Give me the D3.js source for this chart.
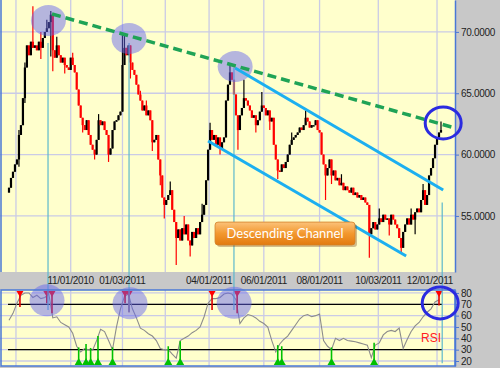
<!DOCTYPE html>
<html lang="en">
<head>
<meta charset="UTF-8">
<title>Descending Channel</title>
<script src="https://d3js.org/d3.v7.min.js"></script>
<style>
    body { margin: 0; background: #c8c8c8; }
    svg { display: block; font-family: 'Liberation Sans', Arial, sans-serif; }
</style>
</head>
<body>
<div id="chart"></div>
<script>
    // daily closes, oldest first (open = previous close)
    var firstOpen = 56.9;
    var closes = [
        57.3, 58.1, 58.6, 59.2, 59.6, 61.6, 62.4, 64.6, 67.1, 68.9,
        68.1, 69.2, 68.7, 68.9, 68.5, 69.2, 68.7, 69.5, 70.0, 70.3,
        70.8, 71.4, 68.5, 67.9, 68.9, 68.1, 67.5, 67.9, 67.3, 67.1,
        66.9, 67.9, 67.3, 66.7, 65.3, 64.0, 63.0, 62.4, 62.0, 62.8,
        61.6, 60.8, 60.4, 60.0, 61.2, 62.8, 62.4, 62.7, 62.0, 61.6,
        60.0, 60.5, 62.0, 62.7, 62.8, 63.2, 63.5, 67.3, 68.7, 68.1,
        68.9, 67.5, 66.9, 66.5, 65.7, 64.9, 64.4, 63.6, 64.0, 63.2,
        63.6, 62.8, 61.0, 61.2, 61.6, 59.6, 58.3, 56.5, 55.9, 56.3,
        56.7, 57.1, 55.5, 54.5, 53.2, 53.9, 53.0, 54.0, 53.5, 54.3,
        53.0, 52.6, 53.7, 53.2, 54.0, 53.5, 54.5, 55.1, 55.9, 57.9,
        60.4, 62.0, 61.2, 61.6, 60.8, 61.4, 60.5, 61.0, 61.4, 64.4,
        65.7, 66.7, 66.1, 64.9, 63.2, 62.0, 63.2, 63.8, 64.6, 64.4,
        64.0, 63.6, 63.0, 63.2, 62.4, 62.8, 63.5, 64.0, 63.8, 63.2,
        63.6, 62.7, 63.0, 60.8, 59.6, 58.7, 58.6, 59.2, 58.9, 59.4,
        60.0, 60.8, 61.2, 61.4, 61.6, 61.8, 62.2, 62.0, 62.4, 63.0,
        62.7, 62.2, 62.4, 62.4, 62.8, 62.0, 61.8, 60.0, 59.2, 58.3,
        58.9, 59.6, 58.3, 58.7, 57.9, 58.1, 57.5, 57.7, 57.1, 57.4,
        57.1, 56.9, 57.3, 56.7, 56.9, 56.5, 56.7, 56.3, 56.5, 56.1,
        55.9, 53.5, 54.0, 54.5, 53.9, 54.3, 54.8, 54.5, 55.1, 54.7,
        54.8, 54.3, 55.1, 54.7, 54.3, 54.0, 53.2, 52.4, 53.7, 54.3,
        54.8, 54.3, 55.1, 54.7, 55.3, 55.6, 55.3, 56.3, 57.1, 55.9,
        56.7, 58.3, 58.9, 59.7, 60.8, 61.4, 61.8, 62.0
    ];
    // notable wicks: [day, high, low]
    var wicks = [
        [5, 62.0, 59.0], [8, 67.5, 64.2], [12, 72.1, null], [16, 70.0, 67.8], [19, 71.0, null],
        [21, 71.7, 68.0], [22, null, 66.8], [24, 69.6, null], [28, null, 66.6], [32, 68.3, null],
        [37, null, 61.8], [43, null, 59.6], [45, 63.3, null], [50, null, 59.4], [57, 69.8, null],
        [58, 69.9, null], [61, null, 66.2], [66, 65.2, null], [69, 64.4, null], [72, null, 60.3],
        [76, null, 57.5], [78, null, 54.8], [81, 57.8, null], [84, null, 51.0], [88, 55.0, null],
        [91, null, 51.7], [97, 56.0, null], [101, 62.6, null], [106, null, 60.0], [111, 67.4, null],
        [115, null, 60.4], [118, 66.1, null], [124, null, 61.8], [127, 65.1, null], [131, null, 62.0],
        [135, null, 58.0], [142, 61.8, null], [149, 63.6, null], [159, null, 56.3], [162, null, 57.6],
        [167, 58.4, null], [181, null, 51.6], [186, 55.6, null], [191, null, 53.4], [197, null, 52.0],
        [202, 55.6, null], [204, null, 53.5], [208, 57.6, null], [217, 62.7, null]
    ];
    // RSI, one reading every second day
    var rsi = [
        56, 62, 71, 78, 80, 80, 76, 78, 75, 76,
        79, 58, 59, 54, 52, 50, 44.5, 33, 28, 31,
        30, 29.5, 38, 48, 46, 38, 30, 50, 66, 77,
        79, 66, 58, 49, 47, 44, 42, 38, 31, 30,
        30, 26, 22.5, 38, 40, 42, 45, 47, 50, 59,
        71, 75, 75, 76, 79, 80, 79, 74, 53, 58,
        61, 60, 58, 55, 53, 50, 38, 28, 35, 39,
        42, 47, 52, 57, 60, 61, 59, 60, 61.5, 38,
        33, 30, 40, 38, 40, 38, 37.5, 37, 36, 35,
        34, 23, 34, 36, 43, 46, 47, 46, 49, 31,
        39, 46, 51, 54, 59, 63, 66, 72, 74
    ];
    // overbought / oversold signals: day and RSI reached by the stem
    var sellDays = [5.5, 19, 21.6, 58.3, 60.3, 102, 114.6, 216];
    var sellLevel = [67.6, 71, 62, 71, 63, 65, 62, 69];
    var buyDays = [35, 38.7, 41, 44.7, 52, 80, 86, 135, 137, 162, 183.4];
    var buyLevel = [32, 35, 31.5, 42, 32, 33, 37.5, 34, 33, 32, 36];

    // axis ticks
    var priceTicks = [55, 60, 65, 70];
    var rsiTicks = [20, 30, 40, 50, 60, 70, 80];
    var gridDays = [3.5, 31, 57, 78.5, 100.5, 128, 156, 185.5, 215];
    var labelDays = [31, 57, 100.5, 128, 156, 185.5, 215];
    var labelText = ["11/01/2010", "01/03/2011", "04/01/2011", "06/01/2011", "08/01/2011", "10/03/2011", "12/01/2011"];

    // drawn annotations, in day / price units
    var resistance = [[21.6, 71.46], [224, 62.17]];
    var channelTop = [[113.6, 67.06], [218.1, 57.12]];
    var channelBottom = [[100, 61.11], [199.5, 51.74]];
    var peaks = [[19.8, 70.93], [60.3, 69.46], [113.6, 67.18]];
    var rsiPeaks = [[19.1, 73.5], [60.8, 70.9], [113.1, 71.3]];
    var links = [[19.6, 69.1, 65], [60.3, 69.1, 63], [113, 67.1, 65], [217.6, 56.1, 18]];

    var W = 500, H = 368, plotW = 455;
    var mainTop = 0, mainBottom = 272, rsiTop = 290, rsiBottom = 366;

    var svg = d3.select("#chart").append("svg")
        .attr("width", W)
        .attr("height", H);

    var x = d3.scaleLinear().domain([0, closes.length - 1]).range([9, 441]);
    var y = d3.scaleLinear().domain([50.43, 72.6]).range([mainBottom, mainTop]);
    var yr = d3.scaleLinear().domain([15.6, 82.6]).range([rsiBottom, rsiTop]);

    //backgrounds
    svg.append("rect").attr("width", W).attr("height", H).attr("fill", "#c8c8c8");
    svg.append("rect").attr("x", 0).attr("y", mainTop).attr("width", plotW).attr("height", mainBottom - mainTop).attr("fill", "#ffffcc");
    svg.append("rect").attr("x", 0).attr("y", rsiTop).attr("width", plotW).attr("height", rsiBottom - rsiTop).attr("fill", "#ffffcc");

    var gridColor = "#cacbe6";

    //gridlines
    svg.append("g").selectAll("line").data(priceTicks).enter().append("line")
        .attr("x1", 0).attr("x2", plotW)
        .attr("y1", function(d) { return y(d); }).attr("y2", function(d) { return y(d); })
        .attr("stroke", gridColor).attr("stroke-width", 1.3);
    svg.append("g").selectAll("line").data(rsiTicks).enter().append("line")
        .attr("x1", 0).attr("x2", plotW)
        .attr("y1", function(d) { return yr(d); }).attr("y2", function(d) { return yr(d); })
        .attr("stroke", gridColor).attr("stroke-width", 1.3);
    svg.append("g").selectAll("line").data(gridDays).enter().append("line")
        .attr("x1", function(d) { return x(d); }).attr("x2", function(d) { return x(d); })
        .attr("y1", mainTop).attr("y2", mainBottom)
        .attr("stroke", gridColor).attr("stroke-width", 1.3);
    svg.append("g").selectAll("line").data(gridDays).enter().append("line")
        .attr("x1", function(d) { return x(d); }).attr("x2", function(d) { return x(d); })
        .attr("y1", rsiTop).attr("y2", rsiBottom)
        .attr("stroke", gridColor).attr("stroke-width", 1.3);

    //candles
    var wickMap = {};
    wicks.forEach(function(w) { wickMap[w[0]] = w; });
    var candles = closes.map(function(c, i) {
        var o = i === 0 ? firstOpen : closes[i - 1];
        var hi = Math.max(o, c), lo = Math.min(o, c);
        var w = wickMap[i];
        if (w && w[1] !== null) hi = Math.max(hi, w[1]);
        if (w && w[2] !== null) lo = Math.min(lo, w[2]);
        return { i: i, open: o, close: c, high: hi, low: lo };
    });
    var candleColor = function(d) { return d.close >= d.open ? "#000000" : "#ff0000"; };

    var cg = svg.append("g");
    cg.selectAll(".wick").data(candles).enter().append("line")
        .attr("x1", function(d) { return x(d.i); }).attr("x2", function(d) { return x(d.i); })
        .attr("y1", function(d) { return y(d.high); }).attr("y2", function(d) { return y(d.low); })
        .attr("stroke", candleColor).attr("stroke-width", 1.2);
    cg.selectAll(".body").data(candles).enter().append("rect")
        .attr("x", function(d) { return x(d.i) - 1.1; })
        .attr("width", 2.2)
        .attr("y", function(d) { return y(Math.max(d.open, d.close)); })
        .attr("height", function(d) { return Math.max(1.5, Math.abs(y(d.open) - y(d.close))); })
        .attr("fill", candleColor);

    //rsi reference lines at 70 and 30
    svg.append("g").selectAll("line").data([70, 30]).enter().append("line")
        .attr("x1", x(0) - 1).attr("x2", x(closes.length - 1) + 1)
        .attr("y1", function(d) { return yr(d); }).attr("y2", function(d) { return yr(d); })
        .attr("stroke", "#000").attr("stroke-width", 1.2);

    //rsi line
    svg.append("path")
        .datum(rsi)
        .attr("fill", "none")
        .attr("stroke", "#8c8c8c")
        .attr("stroke-width", 1.1)
        .attr("d", d3.line()
            .x(function(d, k) { return x(k * 2); })
            .y(function(d) { return yr(d); }));

    //sell markers (top) and buy markers (bottom)
    var sg = svg.append("g");
    sellDays.forEach(function(d, k) {
        var cx = x(d);
        sg.append("line").attr("x1", cx).attr("x2", cx)
            .attr("y1", rsiTop + 2).attr("y2", yr(sellLevel[k]))
            .attr("stroke", "#e00000").attr("stroke-width", 1.6);
        sg.append("path")
            .attr("d", "M" + (cx - 3.5) + "," + (rsiTop + 1) + "L" + (cx + 3.5) + "," + (rsiTop + 1) + "L" + cx + "," + (rsiTop + 7) + "Z")
            .attr("fill", "#ff0000");
    });
    buyDays.forEach(function(d, k) {
        var cx = x(d);
        sg.append("line").attr("x1", cx).attr("x2", cx)
            .attr("y1", rsiBottom - 2).attr("y2", yr(buyLevel[k]))
            .attr("stroke", "#00c000").attr("stroke-width", 1.6);
        sg.append("path")
            .attr("d", "M" + (cx - 4) + "," + (rsiBottom - 1) + "L" + (cx + 4) + "," + (rsiBottom - 1) + "L" + cx + "," + (rsiBottom - 8) + "Z")
            .attr("fill", "#00c000");
    });

    //thin links between price peaks and rsi signals
    svg.append("g").selectAll("line").data(links).enter().append("line")
        .attr("x1", function(d) { return x(d[0]); }).attr("x2", function(d) { return x(d[0]); })
        .attr("y1", function(d) { return y(d[1]); }).attr("y2", function(d) { return yr(d[2]); })
        .attr("stroke", "#5cb8cc").attr("stroke-width", 1.2);

    //lavender highlight ellipses
    svg.append("g").selectAll("ellipse").data(peaks).enter().append("ellipse")
        .attr("cx", function(d) { return x(d[0]); }).attr("cy", function(d) { return y(d[1]); })
        .attr("rx", 17.5).attr("ry", 15.5)
        .attr("fill", "rgba(100,100,240,0.48)");
    svg.append("g").selectAll("ellipse").data(rsiPeaks).enter().append("ellipse")
        .attr("cx", function(d) { return x(d[0]); }).attr("cy", function(d) { return yr(d[1]); })
        .attr("rx", 17.5).attr("ry", 16)
        .attr("fill", "rgba(100,100,240,0.48)");

    //channel lines
    var line = d3.line().x(function(d) { return x(d[0]); }).y(function(d) { return y(d[1]); });
    [channelTop, channelBottom].forEach(function(c) {
        svg.append("path").datum(c).attr("d", line)
            .attr("stroke", "#1caff0").attr("stroke-width", 3).attr("fill", "none");
    });
    svg.append("path").datum(resistance).attr("d", line)
        .attr("stroke", "#1fa356").attr("stroke-width", 3.5)
        .attr("stroke-dasharray", "9,5").attr("fill", "none");

    //axes
    var priceAxis = svg.append("g")
        .attr("transform", "translate(" + plotW + ",0)")
        .call(d3.axisRight(y).tickValues(priceTicks).tickFormat(d3.format(".4f")).tickSize(4).tickSizeOuter(0));
    var rsiAxis = svg.append("g")
        .attr("transform", "translate(" + plotW + ",0)")
        .call(d3.axisRight(yr).tickValues(rsiTicks).tickSize(4).tickSizeOuter(0));
    [priceAxis, rsiAxis].forEach(function(a) {
        a.select(".domain").attr("stroke", "#4a78d6").attr("stroke-width", 1.5);
        a.selectAll(".tick line").attr("stroke", "#4a78d6");
        a.selectAll(".tick text").attr("x", 6).attr("fill", "#222")
            .style("font-size", "10px").style("font-family", "'Liberation Sans', Arial, sans-serif")
            .style("letter-spacing", "-0.3px");
    });

    //left borders and rsi frame
    svg.append("line").attr("x1", 1).attr("x2", 1).attr("y1", mainTop).attr("y2", mainBottom).attr("stroke", "#4a78d6").attr("stroke-width", 1.5);
    svg.append("rect").attr("x", 1).attr("y", rsiTop).attr("width", plotW - 1).attr("height", rsiBottom - rsiTop)
        .attr("fill", "none").attr("stroke", "#4a78d6").attr("stroke-width", 1.5);

    //date labels in the band between the panels
    var labels = svg.append("g").selectAll("text").data(labelDays).enter().append("text")
        .attr("x", function(d) { return x(d); })
        .attr("y", 284)
        .attr("text-anchor", "middle")
        .attr("fill", "#222")
        .style("font-size", "10px")
        .style("letter-spacing", "-0.3px")
        .text(function(d, k) { return labelText[k]; });
    labels.each(function() {
        var w = this.getComputedTextLength();
        var cx = +this.getAttribute("x");
        if (cx + w / 2 > plotW - 2) this.setAttribute("x", plotW - 2 - w / 2);
    });

    //blue outline circles
    svg.append("ellipse").attr("cx", x(218.1)).attr("cy", y(62.58)).attr("rx", 18).attr("ry", 16)
        .attr("fill", "none").attr("stroke", "#2b2be0").attr("stroke-width", 3);
    svg.append("ellipse").attr("cx", x(216.6)).attr("cy", yr(71.2)).attr("rx", 18).attr("ry", 16)
        .attr("fill", "none").attr("stroke", "#2b2be0").attr("stroke-width", 3);

    //rsi label
    svg.append("text").attr("x", x(207)).attr("y", yr(37))
        .attr("fill", "#ff2020").style("font-size", "12px").text("RSI");

    //descending channel callout
    var defs = svg.append("defs");
    var grad = defs.append("linearGradient").attr("id", "orange").attr("x1", 0).attr("x2", 0).attr("y1", 0).attr("y2", 1);
    grad.append("stop").attr("offset", "0%").attr("stop-color", "#fbc27a");
    grad.append("stop").attr("offset", "50%").attr("stop-color", "#f3982e");
    grad.append("stop").attr("offset", "100%").attr("stop-color", "#e27a10");
    var bx = x(103.5), by = y(54.5), bw = x(173.8) - x(103.5), bh = y(52.63) - y(54.5);
    svg.append("rect").attr("x", bx + 2).attr("y", by + 2).attr("width", bw).attr("height", bh).attr("rx", 3)
        .attr("fill", "rgba(120,70,20,0.35)");
    svg.append("rect").attr("x", bx).attr("y", by).attr("width", bw).attr("height", bh).attr("rx", 3)
        .attr("fill", "url(#orange)").attr("stroke", "#d2802a").attr("stroke-width", 0.8);
    svg.append("text").attr("x", bx + bw / 2).attr("y", by + bh / 2 + 4.5)
        .attr("text-anchor", "middle").attr("fill", "#ffffff")
        .style("font-family", "Lato, 'Open Sans', sans-serif").style("font-size", "13px")
        .text("Descending Channel");
</script>
</body>
</html>
